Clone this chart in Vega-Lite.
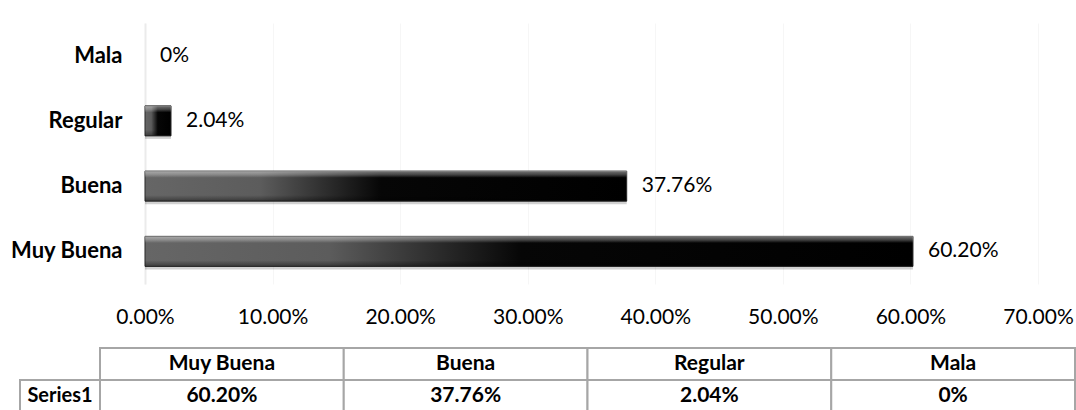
{
  "$schema": "https://vega.github.io/schema/vega-lite/v6.json",
  "padding": {"left": 0, "top": 23, "right": 0, "bottom": 0},
  "background": "white",
  "config": {"view": {"stroke": null}, "font": "Lato"},
  "spacing": 20,
  "vconcat": [
    {
      "width": 893,
      "height": 261,
      "data": {"values": [
        {"cat": "Muy Buena", "value": 0.602, "label": "60.20%"},
        {"cat": "Buena", "value": 0.3776, "label": "37.76%"},
        {"cat": "Regular", "value": 0.0204, "label": "2.04%"},
        {"cat": "Mala", "value": 0, "label": "0%"}
      ]},
      "encoding": {
        "y": {"field": "cat", "type": "nominal", "sort": ["Mala", "Regular", "Buena", "Muy Buena"],
          "scale": {"paddingInner": 0.54, "paddingOuter": 0.27},
          "axis": {"title": null, "labelFont": "Lato", "labelFontSize": 22, "labelFontWeight": "bold", "labelColor": "#000000",
            "ticks": false, "domain": true, "domainColor": "#ebebeb", "domainWidth": 2, "labelPadding": 23, "minExtent": 145, "maxExtent": 145}},
        "x": {"field": "value", "type": "quantitative",
          "scale": {"domain": [0, 0.7], "nice": false},
          "axis": {"title": null, "values": [0, 0.1, 0.2, 0.3, 0.4, 0.5, 0.6, 0.7], "format": ".2%", "grid": true, "gridColor": "#f6f6f6",
            "domain": false, "ticks": false, "labelFont": "Lato", "labelFontSize": 21, "labelColor": "#000000", "labelPadding": 22, "labelFlush": false}}
      },
      "layer": [
        {"transform": [{"filter": "datum.value > 0"}],
          "mark": {"type": "bar", "yOffset": 3, "color": "#000000", "opacity": 0.18}},
        {"transform": [{"filter": "datum.value > 0"}],
          "mark": {"type": "bar", "stroke": "#2a2a2a", "strokeWidth": 1,
          "color": {"gradient": "linear", "x1": 0, "y1": 0, "x2": 1, "y2": 0, "stops": [
            {"offset": 0, "color": "#666666"},
            {"offset": 0.24, "color": "#5c5c5c"},
            {"offset": 0.49, "color": "#060606"},
            {"offset": 1, "color": "#000000"}
          ]}}},
        {"transform": [{"filter": "datum.value > 0"}],
          "mark": {"type": "bar",
          "color": {"gradient": "linear", "x1": 0, "y1": 0, "x2": 0, "y2": 1, "stops": [
            {"offset": 0, "color": "rgba(255,255,255,0.45)"},
            {"offset": 0.12, "color": "rgba(255,255,255,0.25)"},
            {"offset": 0.22, "color": "rgba(255,255,255,0)"},
            {"offset": 0.8, "color": "rgba(0,0,0,0)"},
            {"offset": 1, "color": "rgba(0,0,0,0.4)"}
          ]}}},
        {"mark": {"type": "text", "align": "left", "baseline": "middle", "dx": 15, "font": "Lato", "fontSize": 21, "color": "#000000"},
          "encoding": {"text": {"field": "label"}}}
      ]
    },
    {
      "width": 930,
      "height": 64,
      "resolve": {"scale": {"x": "independent"}},
      "layer": [
        {
          "data": {"values": [
            {"col": "Muy Buena", "row": "header", "text": "Muy Buena"},
            {"col": "Buena", "row": "header", "text": "Buena"},
            {"col": "Regular", "row": "header", "text": "Regular"},
            {"col": "Mala", "row": "header", "text": "Mala"},
            {"col": "Muy Buena", "row": "Series1", "text": "60.20%"},
            {"col": "Buena", "row": "Series1", "text": "37.76%"},
            {"col": "Regular", "row": "Series1", "text": "2.04%"},
            {"col": "Mala", "row": "Series1", "text": "0%"}
          ]},
          "encoding": {
            "x": {"field": "col", "type": "nominal", "axis": null, "sort": ["Muy Buena", "Buena", "Regular", "Mala"], "scale": {"range": [-45, 930], "paddingInner": 0, "paddingOuter": 0}},
            "y": {"field": "row", "type": "nominal", "axis": null, "scale": {"domain": ["header", "Series1"], "paddingInner": 0, "paddingOuter": 0}}
          },
          "layer": [
            {"mark": {"type": "rect", "fill": "white", "stroke": "#a6a6a6", "strokeWidth": 2}},
            {"mark": {"type": "text", "font": "Lato", "fontSize": 21, "fontWeight": "bold", "color": "#000000", "align": "center", "baseline": "middle"},
              "encoding": {"text": {"field": "text"}}}
          ]
        },
        {
          "data": {"values": [{"col": "Series1", "row": "Series1", "text": "Series1"}]},
          "encoding": {
            "x": {"field": "col", "type": "nominal", "axis": null, "scale": {"range": [-125, -45], "paddingInner": 0, "paddingOuter": 0}},
            "y": {"field": "row", "type": "nominal", "axis": null, "scale": {"domain": ["header", "Series1"], "paddingInner": 0, "paddingOuter": 0}}
          },
          "layer": [
            {"mark": {"type": "rect", "fill": "white", "stroke": "#a6a6a6", "strokeWidth": 2}},
            {"mark": {"type": "text", "font": "Lato", "fontSize": 20, "fontWeight": "bold", "color": "#000000", "align": "center", "baseline": "middle"},
              "encoding": {"text": {"field": "text"}}}
          ]
        }
      ]
    }
  ]
}
